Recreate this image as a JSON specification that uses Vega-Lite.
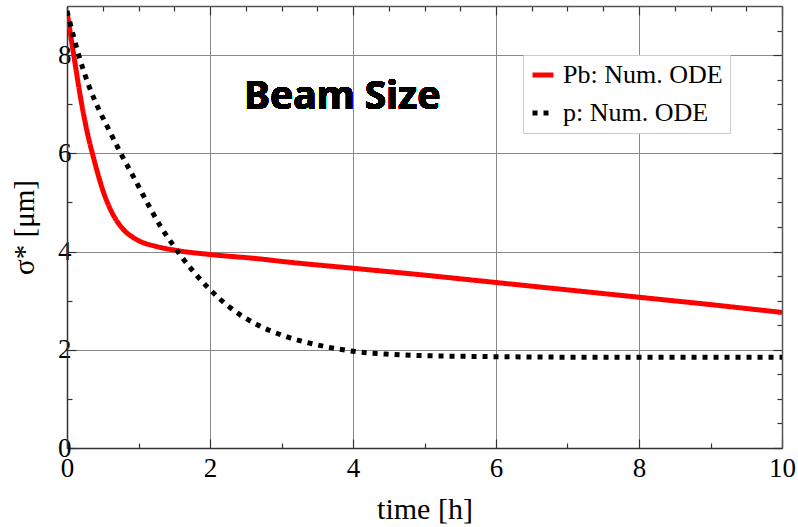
{
  "$schema": "https://vega.github.io/schema/vega-lite/v6.json",
  "width": 715,
  "height": 442,
  "autosize": "none",
  "padding": {"left": 67, "top": 6, "right": 16, "bottom": 79},
  "config": {"view": {"stroke": null}, "font": "Liberation Serif"},
  "data": {"values": [
    {"t": 0, "s": 8.88, "series": "Pb: Num. ODE"},
    {"t": 0.1, "s": 7.95, "series": "Pb: Num. ODE"},
    {"t": 0.19, "s": 7.13, "series": "Pb: Num. ODE"},
    {"t": 0.28, "s": 6.45, "series": "Pb: Num. ODE"},
    {"t": 0.38, "s": 5.86, "series": "Pb: Num. ODE"},
    {"t": 0.45, "s": 5.49, "series": "Pb: Num. ODE"},
    {"t": 0.52, "s": 5.17, "series": "Pb: Num. ODE"},
    {"t": 0.63, "s": 4.79, "series": "Pb: Num. ODE"},
    {"t": 0.77, "s": 4.48, "series": "Pb: Num. ODE"},
    {"t": 0.98, "s": 4.24, "series": "Pb: Num. ODE"},
    {"t": 1.26, "s": 4.1, "series": "Pb: Num. ODE"},
    {"t": 1.5, "s": 4.03, "series": "Pb: Num. ODE"},
    {"t": 2.0, "s": 3.94, "series": "Pb: Num. ODE"},
    {"t": 2.7, "s": 3.85, "series": "Pb: Num. ODE"},
    {"t": 3, "s": 3.8, "series": "Pb: Num. ODE"},
    {"t": 4, "s": 3.66, "series": "Pb: Num. ODE"},
    {"t": 5, "s": 3.52, "series": "Pb: Num. ODE"},
    {"t": 6, "s": 3.37, "series": "Pb: Num. ODE"},
    {"t": 7, "s": 3.22, "series": "Pb: Num. ODE"},
    {"t": 8, "s": 3.07, "series": "Pb: Num. ODE"},
    {"t": 9, "s": 2.92, "series": "Pb: Num. ODE"},
    {"t": 10, "s": 2.76, "series": "Pb: Num. ODE"},
    {"t": 0, "s": 8.9, "series": "p: Num. ODE"},
    {"t": 0.17, "s": 7.97, "series": "p: Num. ODE"},
    {"t": 0.31, "s": 7.36, "series": "p: Num. ODE"},
    {"t": 0.45, "s": 6.88, "series": "p: Num. ODE"},
    {"t": 0.61, "s": 6.41, "series": "p: Num. ODE"},
    {"t": 0.77, "s": 5.95, "series": "p: Num. ODE"},
    {"t": 0.96, "s": 5.44, "series": "p: Num. ODE"},
    {"t": 1.12, "s": 5.0, "series": "p: Num. ODE"},
    {"t": 1.31, "s": 4.51, "series": "p: Num. ODE"},
    {"t": 1.5, "s": 4.1, "series": "p: Num. ODE"},
    {"t": 1.61, "s": 3.88, "series": "p: Num. ODE"},
    {"t": 1.97, "s": 3.27, "series": "p: Num. ODE"},
    {"t": 2.28, "s": 2.86, "series": "p: Num. ODE"},
    {"t": 2.66, "s": 2.51, "series": "p: Num. ODE"},
    {"t": 3, "s": 2.3, "series": "p: Num. ODE"},
    {"t": 3.5, "s": 2.1, "series": "p: Num. ODE"},
    {"t": 4, "s": 1.97, "series": "p: Num. ODE"},
    {"t": 4.5, "s": 1.91, "series": "p: Num. ODE"},
    {"t": 5, "s": 1.88, "series": "p: Num. ODE"},
    {"t": 6, "s": 1.86, "series": "p: Num. ODE"},
    {"t": 7, "s": 1.85, "series": "p: Num. ODE"},
    {"t": 8, "s": 1.85, "series": "p: Num. ODE"},
    {"t": 9, "s": 1.85, "series": "p: Num. ODE"},
    {"t": 10, "s": 1.85, "series": "p: Num. ODE"}
  ]},
  "layer": [
    {
      "mark": {"type": "line", "strokeWidth": 5, "interpolate": "monotone", "clip": true},
      "encoding": {
        "x": {"field": "t", "type": "quantitative",
          "scale": {"domain": [0, 10], "nice": false},
          "axis": {
            "orient": "bottom",
            "values": [0,0.5,1,1.5,2,2.5,3,3.5,4,4.5,5,5.5,6,6.5,7,7.5,8,8.5,9,9.5,10],
            "format": "d",
            "labelExpr": "datum.value % 2 === 0 ? datum.label : ''",
            "labelFlush": false, "labelOverlap": false,
            "labelFont": "Liberation Serif", "labelFontSize": 27, "labelColor": "black", "labelPadding": 16,
            "tickSize": {"condition": {"test": "datum.value % 2 === 0", "value": -9}, "value": -5},
            "tickColor": "#333", "tickWidth": 1.2,
            "domainColor": "#333", "domainWidth": 1.5,
            "grid": true, "gridColor": "#888", "gridWidth": 1,
            "gridOpacity": {"condition": {"test": "datum.value % 2 === 0", "value": 1}, "value": 0},
            "title": "time [h]", "titleFont": "Liberation Serif", "titleFontSize": 30,
            "titleFontWeight": "normal", "titleColor": "black", "titlePadding": 9
          }},
        "y": {"field": "s", "type": "quantitative",
          "scale": {"domain": [0, 9], "nice": false},
          "axis": {
            "orient": "left",
            "values": [0,0.5,1,1.5,2,2.5,3,3.5,4,4.5,5,5.5,6,6.5,7,7.5,8,8.5],
            "format": "d",
            "labelExpr": "datum.value % 2 === 0 ? datum.label : ''",
            "labelFlush": false, "labelOverlap": false,
            "labelFont": "Liberation Serif", "labelFontSize": 27, "labelColor": "black", "labelPadding": 5,
            "tickSize": {"condition": {"test": "datum.value % 2 === 0", "value": -9}, "value": -5},
            "tickColor": "#333", "tickWidth": 1.2,
            "domainColor": "#333", "domainWidth": 1.5,
            "grid": true, "gridColor": "#888", "gridWidth": 1,
            "gridOpacity": {"condition": {"test": "datum.value % 2 === 0", "value": 1}, "value": 0},
            "title": "σ* [μm]", "titleFont": "Liberation Serif", "titleFontSize": 29,
            "titleFontWeight": "normal", "titleColor": "black", "titlePadding": 18
          }},
        "color": {"field": "series", "type": "nominal",
          "scale": {"domain": ["Pb: Num. ODE", "p: Num. ODE"], "range": ["#ff0000", "#000000"]},
          "legend": {"orient": "none", "legendX": 456, "legendY": 49, "title": null,
            "labelFont": "Liberation Serif", "labelFontSize": 26, "labelColor": "black",
            "labelOffset": 7, "symbolType": "stroke", "symbolStrokeWidth": 5, "symbolSize": 440,
            "fillColor": "white", "strokeColor": "#cccccc", "padding": 7, "rowPadding": 12}},
        "strokeDash": {"field": "series", "type": "nominal",
          "scale": {"domain": ["Pb: Num. ODE", "p: Num. ODE"], "range": [[1, 0], [5, 6]]},
          "legend": {"orient": "none", "legendX": 456, "legendY": 49, "title": null,
            "labelFont": "Liberation Serif", "labelFontSize": 26, "labelColor": "black",
            "labelOffset": 7, "symbolType": "stroke", "symbolStrokeWidth": 5, "symbolSize": 440,
            "fillColor": "white", "strokeColor": "#cccccc", "padding": 7, "rowPadding": 12}}
      }
    },
    {
      "mark": {"type": "line", "opacity": 0},
      "encoding": {
        "x": {"field": "t", "type": "quantitative",
          "scale": {"domain": [0, 10], "nice": false},
          "axis": {
            "orient": "top",
            "values": [0,0.5,1,1.5,2,2.5,3,3.5,4,4.5,5,5.5,6,6.5,7,7.5,8,8.5,9,9.5,10],
            "labels": false, "grid": false, "title": null,
            "tickSize": {"condition": {"test": "datum.value % 2 === 0", "value": -9}, "value": -5},
            "tickColor": "#333", "tickWidth": 1.2,
            "domainColor": "#555", "domainWidth": 1.5
          }},
        "y": {"field": "s", "type": "quantitative",
          "scale": {"domain": [0, 9], "nice": false},
          "axis": {
            "orient": "right",
            "values": [0,0.5,1,1.5,2,2.5,3,3.5,4,4.5,5,5.5,6,6.5,7,7.5,8,8.5],
            "labels": false, "grid": false, "title": null,
            "tickSize": {"condition": {"test": "datum.value % 2 === 0", "value": -9}, "value": -5},
            "tickColor": "#333", "tickWidth": 1.2,
            "domainColor": "#555", "domainWidth": 1.5
          }},
        "detail": {"field": "series"}
      }
    },
    {
      "mark": {"type": "text", "font": "Noto Sans", "fontWeight": 700, "fontSize": 39,
        "fill": "black", "strokeWidth": 0, "align": "center", "baseline": "middle"},
      "encoding": {
        "x": {"datum": 3.85, "type": "quantitative", "axis": null},
        "y": {"datum": 7.15, "type": "quantitative", "axis": null},
        "text": {"value": "Beam Size"}
      }
    }
  ],
  "resolve": {"axis": {"x": "independent", "y": "independent"}}
}
